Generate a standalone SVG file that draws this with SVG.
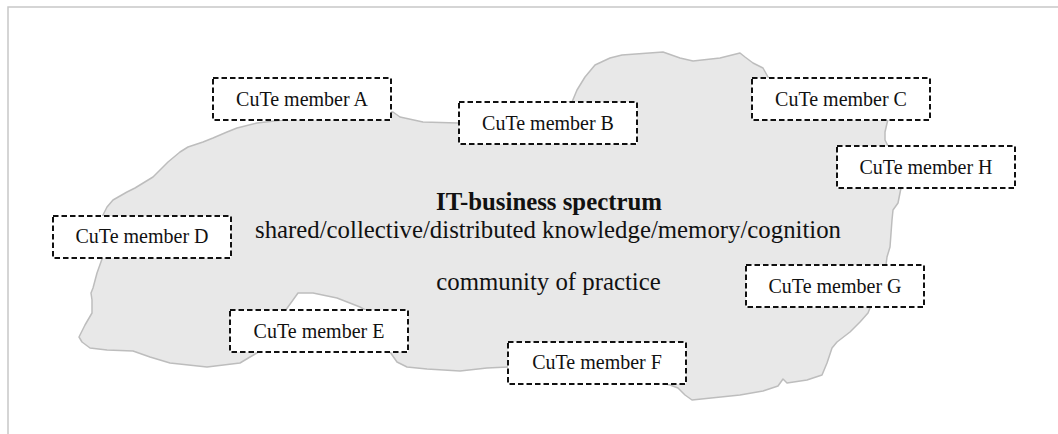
<svg xmlns="http://www.w3.org/2000/svg" width="1058" height="434" viewBox="0 0 1058 434">
<style>
.frame{fill:#fff;stroke:#c8c8c8;stroke-width:1.5}
.blob{fill:#e8e8e8;stroke:#bdbdbd;stroke-width:1.5;stroke-linejoin:round}
.box{fill:#fff;stroke:#111;stroke-width:2;stroke-dasharray:5.5 3}
.lbl{font-family:"Liberation Serif","Times New Roman",serif;font-size:20px;fill:#111;text-anchor:middle}
.ctr{font-family:"Liberation Serif","Times New Roman",serif;font-size:24.8px;fill:#111;text-anchor:middle}
</style>
<rect class="frame" x="8" y="7" width="1100" height="500"/>
<g id="spectrum">
<path class="blob" d="M283,120 L257,123 L237,128 L227,132 L213,138 L203,142 L188,147 L180,152 L168,162 L160,170 L153,177 L135,188 L127,192 L113,200 L107,207 L103,215 L100,240 L102,259 L97,273 L93,288 L91,293 L92,300 L92,313 L85,325 L79,337 L82,342 L90,348 L107,350 L133,351 L150,357 L170,363 L207,367 L240,363 L250,357 L257,353 L270,330 L285,311 L293,300 L298,293 L313,293 L337,298 L360,307 L367,311 L380,330 L390,352 L397,362 L407,367 L427,369 L460,371 L487,368 L508,367 L600,370 L670,385 L678,388 L685,395 L692,400 L740,395 L763,391 L778,386 L783,379 L787,383 L807,380 L822,375 L827,363 L832,348 L837,342 L850,332 L860,322 L868,313 L870,308 L880,285 L886,265 L887,257 L890,247 L892,220 L893,210 L898,203 L901,188 L890,165 L888,146 L885,140 L885,132 L888,119 L800,100 L768,77 L763,68 L753,63 L745,57 L740,53 L720,58 L693,61 L680,58 L663,52 L622,55 L610,58 L595,65 L585,77 L577,90 L572,102 L500,110 L458,123 L423,122 L400,117 L393,112 L330,115 Z"/>
<text class="ctr" x="549" y="210" font-weight="bold">IT-business spectrum</text>
<text class="ctr" x="548" y="237.5">shared/collective/distributed knowledge/memory/cognition</text>
<text class="ctr" x="548.5" y="290">community of practice</text>
</g>
<g id="connectors"></g>
<g id="memberA"><rect class="box" x="213" y="78" width="178" height="42"/><text class="lbl" x="302" y="106">CuTe member A</text></g>
<g id="memberB"><rect class="box" x="459" y="102" width="178" height="42"/><text class="lbl" x="548" y="130">CuTe member B</text></g>
<g id="memberC"><rect class="box" x="752" y="78" width="178" height="42"/><text class="lbl" x="841" y="106">CuTe member C</text></g>
<g id="memberH"><rect class="box" x="837" y="146" width="178" height="42"/><text class="lbl" x="926" y="174">CuTe member H</text></g>
<g id="memberD"><rect class="box" x="53" y="216" width="178" height="42"/><text class="lbl" x="142" y="243">CuTe member D</text></g>
<g id="memberG"><rect class="box" x="746" y="265" width="178" height="42"/><text class="lbl" x="835" y="293">CuTe member G</text></g>
<g id="memberE"><rect class="box" x="230" y="310" width="178" height="42"/><text class="lbl" x="319" y="338">CuTe member E</text></g>
<g id="memberF"><rect class="box" x="508" y="342" width="178" height="42"/><text class="lbl" x="597" y="369">CuTe member F</text></g>
</svg>
